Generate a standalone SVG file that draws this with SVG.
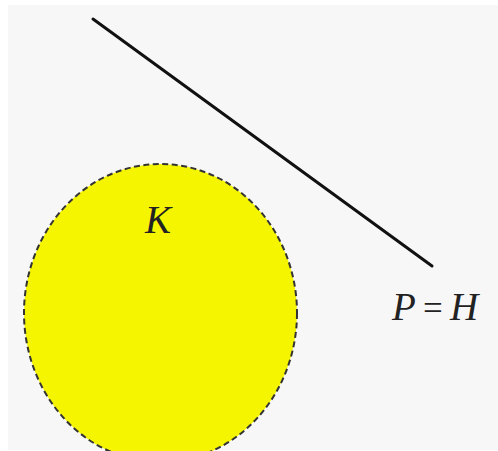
<svg xmlns="http://www.w3.org/2000/svg" width="498" height="451" viewBox="0 0 498 451">
<style>
.lbl{font-family:"Liberation Serif","Times New Roman",serif;font-size:39px;font-style:italic;fill:#222}
.op{font-style:normal;font-size:35px}
</style>
<rect x="0" y="0" width="498" height="451" fill="#ffffff"/>
<rect x="8" y="5" width="490" height="445" fill="#f7f7f7"/>
<g id="K">
<ellipse cx="160.5" cy="313" rx="136.5" ry="149" fill="#f5f500" stroke="#333" stroke-width="2" stroke-dasharray="6,3.5"/>
<text class="lbl" x="145" y="233">K</text>
</g>
<g id="connectors">
<line x1="93" y1="19" x2="432" y2="266" stroke="#111" stroke-width="3" stroke-linecap="round"/>
</g>
<g id="PH">
<text class="lbl" y="320"><tspan x="392">P</tspan><tspan class="op" x="423">=</tspan><tspan x="450">H</tspan></text>
</g>
</svg>
